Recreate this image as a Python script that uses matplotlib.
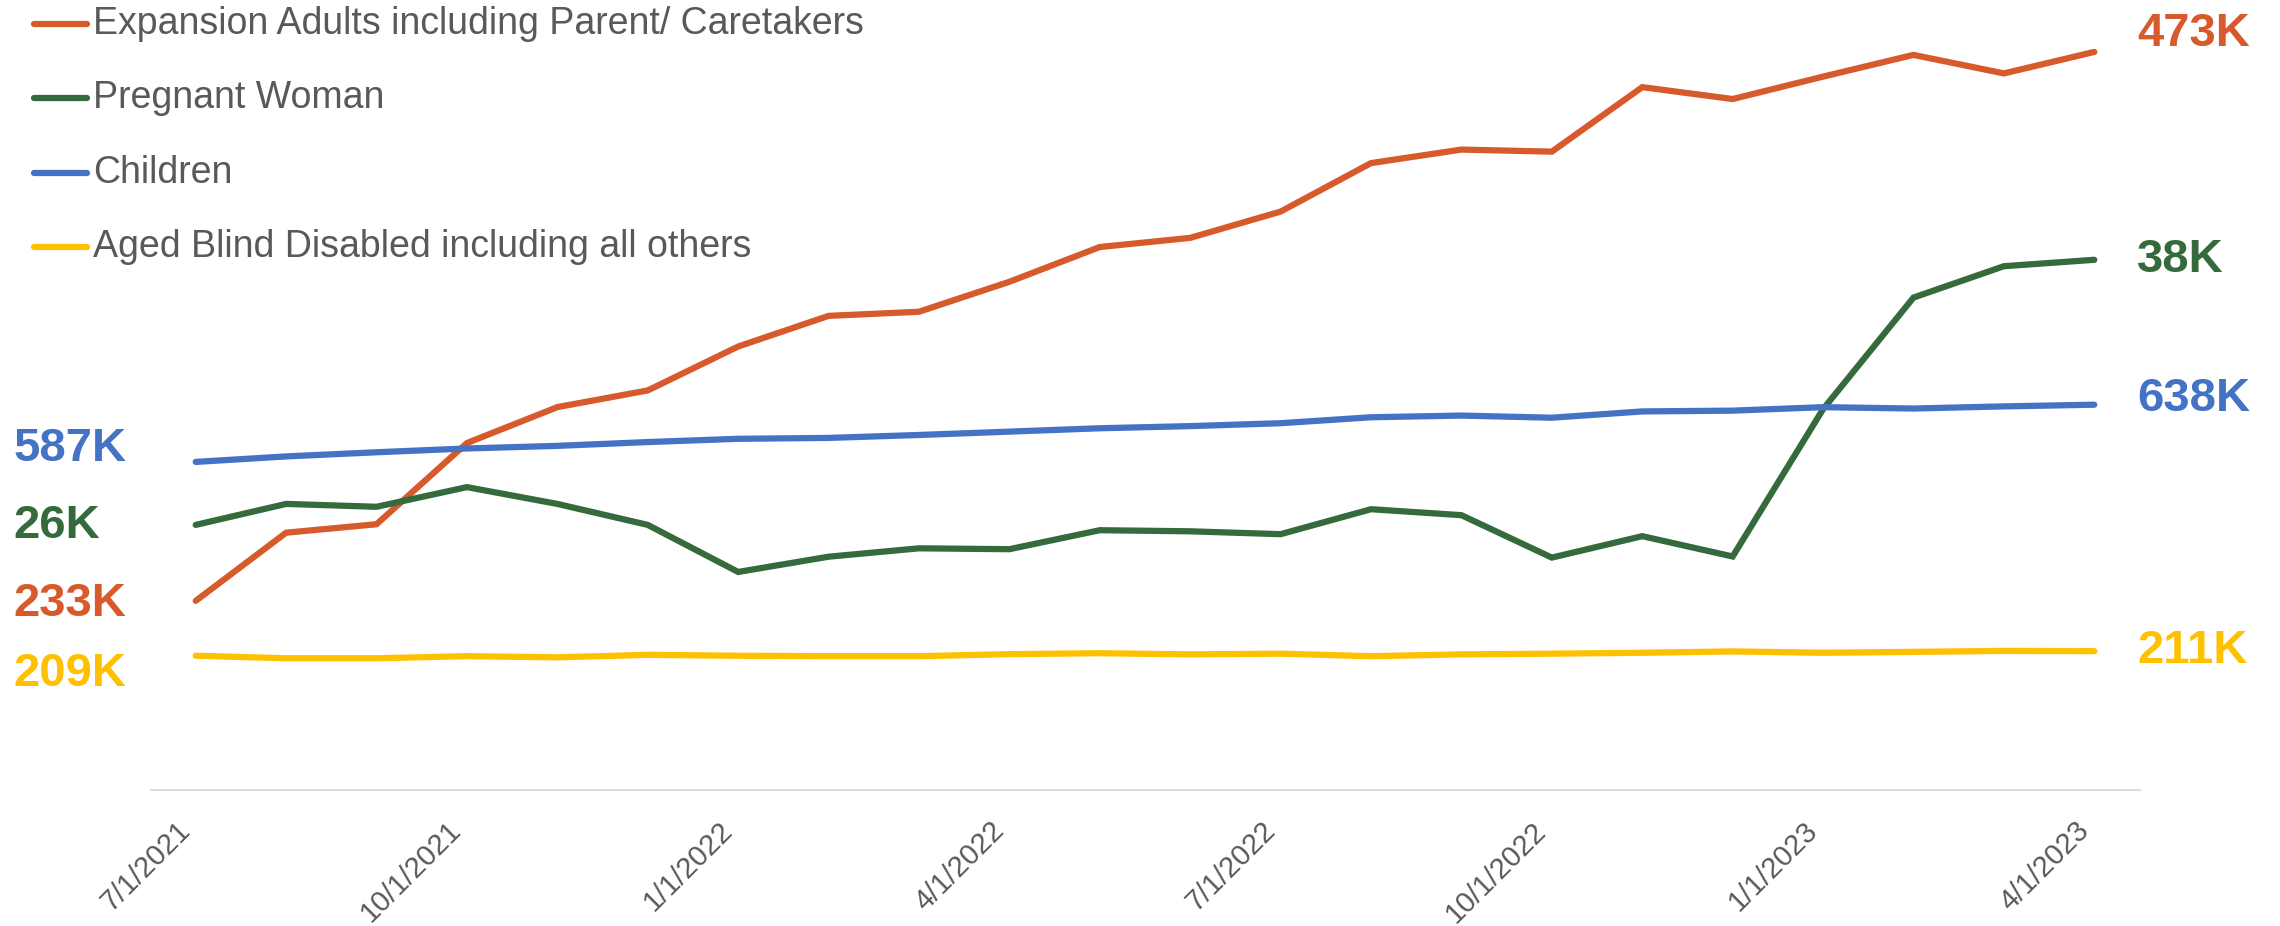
import matplotlib
matplotlib.use("Agg")
import matplotlib.pyplot as plt
from matplotlib.lines import Line2D
import numpy as np

plt.rcParams["font.family"] = ["Liberation Sans", "DejaVu Sans"]

# monthly enrollment, thousands
months = ["7/1/2021", "8/1/2021", "9/1/2021", "10/1/2021", "11/1/2021",
          "12/1/2021", "1/1/2022", "2/1/2022", "3/1/2022", "4/1/2022",
          "5/1/2022", "6/1/2022", "7/1/2022", "8/1/2022", "9/1/2022",
          "10/1/2022", "11/1/2022", "12/1/2022", "1/1/2023", "2/1/2023",
          "3/1/2023", "4/1/2023"]

expansion = [233, 262.8, 266.5, 302.0, 317.7, 325.0, 344.2, 357.6, 359.4,
             372.5, 387.7, 391.7, 403.2, 424.4, 430.3, 429.4, 457.6, 452.4,
             462.2, 471.7, 463.6, 473]
pregnant = [26.0, 26.95, 26.82, 27.71, 26.95, 26.0, 23.87, 24.56, 24.94,
            24.90, 25.76, 25.71, 25.58, 26.71, 26.44, 24.52, 25.49, 24.57,
            31.24, 36.29, 37.71, 38.0]
children = [587, 591.9, 595.6, 599.0, 601.3, 604.7, 607.6, 608.4, 611.0,
            614.0, 617.0, 618.9, 621.5, 626.8, 628.3, 626.4, 632.0, 632.7,
            635.8, 634.6, 636.5, 638]
aged = [209.0, 207.9, 207.9, 208.8, 208.3, 209.4, 209.0, 208.8, 208.8,
        209.7, 210.1, 209.6, 209.9, 208.8, 209.6, 209.9, 210.3, 210.9,
        210.3, 210.7, 211.1, 211.0]

names = ["Expansion Adults including Parent/ Caretakers", "Pregnant Woman",
         "Children", "Aged Blind Disabled including all others"]
colors = ["#D65A2C", "#356A3C", "#4472C4", "#FFC000"]

W, H = 2280, 926
fig = plt.figure(figsize=(W / 100, H / 100), dpi=100)
ax = fig.add_axes([150.5 / W, 136 / H, 1989 / W, 790 / H])
ax_green = ax.twinx()
ax_blue = ax.twinx()

# each group gets its own vertical scale
ax.set_ylim(150.3, 495.7)
ax_green.set_ylim(14.0, 49.76)
ax_blue.set_ylim(294.5, 998.8)

x = np.arange(len(months))
series = [
    (ax, expansion, colors[0], (-3, 18)),
    (ax_green, pregnant, colors[1], (-1, 0)),
    (ax_blue, children, colors[2], (13, 6)),
    (ax, aged, colors[3], (-18, 0)),
]

for a, vals, c, (dy_left, dy_right) in series:
    a.plot(x, vals, color=c, lw=4.5, solid_capstyle="round",
           solid_joinstyle="miter")
    a.annotate(f"{vals[0]:.0f}K", xy=(x[0], vals[0]), xytext=(-182, dy_left),
               textcoords="offset pixels", ha="left", va="center",
               color=c, fontsize=34, fontweight="bold")
    a.annotate(f"{vals[-1]:.0f}K", xy=(x[-1], vals[-1]),
               xytext=(43, dy_right), textcoords="offset pixels",
               ha="left", va="center", color=c, fontsize=34,
               fontweight="bold")

ax.set_xlim(-0.5, len(months) - 0.5)
ax.set_xticks(x[::3])
ax.set_xticklabels(months[::3], rotation=45, ha="right", fontsize=21,
                   color="#595959")
ax.tick_params(axis="x", length=0, pad=19)

for a in (ax, ax_green, ax_blue):
    a.set_yticks([])
    for side in ("left", "right", "top", "bottom"):
        a.spines[side].set_visible(False)
    a.patch.set_visible(False)
ax.spines["bottom"].set_visible(True)
ax.spines["bottom"].set_color("#D9D9D9")
ax.spines["bottom"].set_linewidth(1.3)

# legend stacked in the top left corner
for i, (name, c) in enumerate(zip(names, colors)):
    yc = 1 - (23.5 + 74.6 * i) / H
    fig.add_artist(Line2D([34 / W, 87 / W], [yc, yc], color=c, lw=4.5,
                          solid_capstyle="round",
                          transform=fig.transFigure))
    fig.text(93 / W, yc, name, ha="left", va="center", fontsize=27,
             color="#595959")

fig.savefig("out.png", dpi=100)
